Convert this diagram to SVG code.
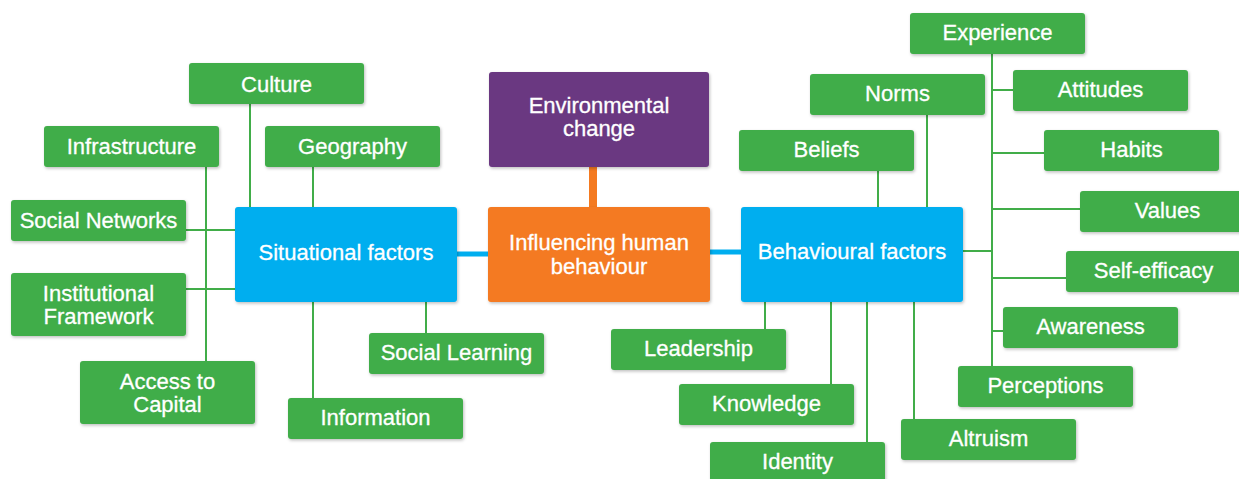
<svg xmlns="http://www.w3.org/2000/svg" width="1239" height="479" viewBox="0 0 1239 479">
<defs>
<filter id="sh" x="-10%" y="-20%" width="120%" height="150%">
<feDropShadow dx="1" dy="1.5" stdDeviation="1.5" flood-color="#000" flood-opacity="0.25"/>
</filter>
</defs>
<style>
text{font-family:"Liberation Sans",Arial,Helvetica,sans-serif;font-size:22px;fill:#fff;stroke:#fff;stroke-width:0.3;text-anchor:middle}
.g rect{fill:#41ad49;filter:url(#sh)}
.b rect{fill:#00aeef;filter:url(#sh)}
.o rect{fill:#f47a20;filter:url(#sh)}
.p rect{fill:#6a3781;filter:url(#sh)}
.ln{stroke:#41ad49;stroke-width:2;fill:none}
.bl{stroke:#00aeef;stroke-width:5;fill:none}
.ol{stroke:#f47a20;stroke-width:8;fill:none}
</style>
<rect width="1239" height="479" fill="#fff"/>
<g id="connectors">
<path class="ol" d="M593 167V207"/>
<path class="bl" d="M457 254H488M710 252H741"/>
<path class="ln" d="M250 104V207M313 167V207M206 167V361M186 230H235M186 289H235M313 302V398M426 302V333"/>
<path class="ln" d="M878 171V207M927 115V207M992 54V366M992 90H1013M992 153H1044M992 209H1080M963 251H992M992 278H1066M992 331H1003M765 302V329M831 302V384M867 302V442M914 302V419"/>
</g>
<g id="environmental" class="p"><rect x="489" y="72" width="220" height="95" rx="3"/><text x="599" y="112.5">Environmental</text><text x="599" y="136">change</text></g>
<g id="influencing" class="o"><rect x="488" y="207" width="222" height="95" rx="3"/><text x="599" y="250">Influencing human</text><text x="599" y="274">behaviour</text></g>
<g id="situational" class="b"><rect x="235" y="207" width="222" height="95" rx="3"/><text x="346" y="260">Situational factors</text></g>
<g id="behavioural" class="b"><rect x="741" y="207" width="222" height="95" rx="3"/><text x="852" y="258.5">Behavioural factors</text></g>
<g id="culture" class="g"><rect x="189" y="63" width="175" height="41" rx="3"/><text x="276.5" y="91.5">Culture</text></g>
<g id="infrastructure" class="g"><rect x="44" y="126" width="175" height="41" rx="3"/><text x="131.5" y="154">Infrastructure</text></g>
<g id="geography" class="g"><rect x="265" y="126" width="175" height="41" rx="3"/><text x="352.5" y="154">Geography</text></g>
<g id="social-networks" class="g"><rect x="11" y="200" width="175" height="41" rx="3"/><text x="98.5" y="227.5">Social Networks</text></g>
<g id="institutional" class="g"><rect x="11" y="273" width="175" height="63" rx="3"/><text x="98.5" y="300.5">Institutional</text><text x="98.5" y="324">Framework</text></g>
<g id="access" class="g"><rect x="80" y="361" width="175" height="63" rx="3"/><text x="167.5" y="388.5">Access to</text><text x="167.5" y="412">Capital</text></g>
<g id="information" class="g"><rect x="288" y="398" width="175" height="41" rx="3"/><text x="375.5" y="425">Information</text></g>
<g id="social-learning" class="g"><rect x="369" y="333" width="175" height="41" rx="3"/><text x="456.5" y="360">Social Learning</text></g>
<g id="experience" class="g"><rect x="910" y="13" width="175" height="41" rx="3"/><text x="997.5" y="40">Experience</text></g>
<g id="norms" class="g"><rect x="810" y="74" width="175" height="41" rx="3"/><text x="897.5" y="101">Norms</text></g>
<g id="beliefs" class="g"><rect x="739" y="130" width="175" height="41" rx="3"/><text x="826.5" y="157">Beliefs</text></g>
<g id="attitudes" class="g"><rect x="1013" y="70" width="175" height="41" rx="3"/><text x="1100.5" y="97">Attitudes</text></g>
<g id="habits" class="g"><rect x="1044" y="130" width="175" height="41" rx="3"/><text x="1131.5" y="157">Habits</text></g>
<g id="values" class="g"><rect x="1080" y="191" width="175" height="41" rx="3"/><text x="1167.5" y="218">Values</text></g>
<g id="self-efficacy" class="g"><rect x="1066" y="251" width="175" height="41" rx="3"/><text x="1153.5" y="278">Self-efficacy</text></g>
<g id="awareness" class="g"><rect x="1003" y="307" width="175" height="41" rx="3"/><text x="1090.5" y="334">Awareness</text></g>
<g id="perceptions" class="g"><rect x="958" y="366" width="175" height="41" rx="3"/><text x="1045.5" y="393">Perceptions</text></g>
<g id="leadership" class="g"><rect x="611" y="329" width="175" height="41" rx="3"/><text x="698.5" y="356">Leadership</text></g>
<g id="knowledge" class="g"><rect x="679" y="384" width="175" height="41" rx="3"/><text x="766.5" y="411">Knowledge</text></g>
<g id="identity" class="g"><rect x="710" y="442" width="175" height="41" rx="3"/><text x="797.5" y="469">Identity</text></g>
<g id="altruism" class="g"><rect x="901" y="419" width="175" height="41" rx="3"/><text x="988.5" y="446">Altruism</text></g>
</svg>
